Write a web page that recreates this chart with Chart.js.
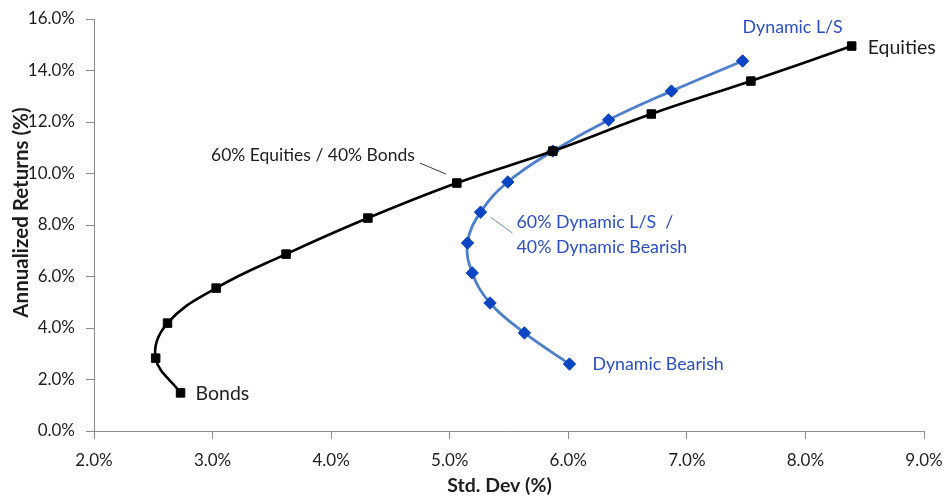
<!DOCTYPE html>
<html>
<head>
<meta charset="utf-8">
<script src="https://cdn.jsdelivr.net/npm/chart.js@4.4.1/dist/chart.umd.min.js"></script>
<style>
html,body{margin:0;padding:0;background:#ffffff;}
canvas{display:block;}
</style>
</head>
<body>
<canvas id="c" width="944" height="497"></canvas>
<script>
// ---- Data (percent units) ----
// Equities / Bonds frontier, from 100% Bonds to 100% Equities
const eqBondStd = [2.73, 2.52, 2.62, 3.03, 3.62, 4.31, 5.06, 5.87, 6.70, 7.54, 8.39];
const eqBondRet = [1.48, 2.83, 4.19, 5.55, 6.87, 8.27, 9.63, 10.87, 12.31, 13.59, 14.95];
// Dynamic L/S / Dynamic Bearish frontier, from 100% Bearish to 100% L/S
const dynStd = [6.01, 5.63, 5.34, 5.19, 5.15, 5.26, 5.49, 5.87, 6.34, 6.87, 7.47];
const dynRet = [2.60, 3.81, 4.97, 6.14, 7.30, 8.50, 9.67, 10.87, 12.08, 13.20, 14.37];

const xTickValues = [2, 3, 4, 5, 6, 7, 8, 9];
const yTickValues = [0, 2, 4, 6, 8, 10, 12, 14, 16];

const xTitle = 'Std. Dev (%)';
const yTitle = 'Annualized Returns (%)';

const eqBondLabels = { first: 'Bonds', last: 'Equities', mid: '60% Equities / 40% Bonds', midIndex: 6 };
const dynLabels = { first: 'Dynamic Bearish', last: 'Dynamic L/S', mid: ['60% Dynamic L/S  /', '40% Dynamic Bearish'], midIndex: 5 };

// ---- Build points ----
const toPts = (xs, ys) => xs.map((x, i) => ({ x: x, y: ys[i] }));

const BLACK = '#000000';
const BLUE_LINE = '#4d7fcc';
const BLUE_MARK = '#0b45c4';
const BLUE_TEXT = '#2b4fc6';
const TEXT_DARK = '#1e1e1e';
const AXIS_GRAY = '#8c8c8c';
const FONT = 'Lato, "Open Sans", sans-serif';

const labelPlugin = {
  id: 'frontierLabels',
  afterDraw(chart) {
    const ctx = chart.ctx;
    const xs = chart.scales.x, ys = chart.scales.y;
    const px = (arrX, i) => xs.getPixelForValue(arrX[i]);
    const py = (arrY, i) => ys.getPixelForValue(arrY[i]);
    ctx.save();
    ctx.textBaseline = 'alphabetic';

    // Black series labels
    ctx.fillStyle = TEXT_DARK;
    ctx.textAlign = 'left';
    ctx.font = '19.5px ' + FONT;
    let n = eqBondStd.length - 1;
    ctx.fillText(eqBondLabels.first, px(eqBondStd, 0) + 15, py(eqBondRet, 0) + 7);
    ctx.fillText(eqBondLabels.last, px(eqBondStd, n) + 16, py(eqBondRet, n) + 8);
    let mx = px(eqBondStd, eqBondLabels.midIndex), my = py(eqBondRet, eqBondLabels.midIndex);
    ctx.font = '17.5px ' + FONT;
    ctx.textAlign = 'right';
    ctx.fillText(eqBondLabels.mid, mx - 42, my - 22);
    ctx.strokeStyle = '#3a3a3a';
    ctx.lineWidth = 1;
    ctx.beginPath();
    ctx.moveTo(mx - 37, my - 20);
    ctx.lineTo(mx - 11, my - 9);
    ctx.stroke();

    // Blue series labels
    ctx.fillStyle = BLUE_TEXT;
    ctx.textAlign = 'left';
    ctx.font = '17.8px ' + FONT;
    n = dynStd.length - 1;
    ctx.fillText(dynLabels.first, px(dynStd, 0) + 23, py(dynRet, 0) + 6);
    ctx.fillText(dynLabels.last, px(dynStd, n) + 0, py(dynRet, n) - 28);
    mx = px(dynStd, dynLabels.midIndex); my = py(dynRet, dynLabels.midIndex);
    ctx.fillText(dynLabels.mid[0], mx + 36, my + 16);
    ctx.fillText(dynLabels.mid[1], mx + 36, my + 41);
    ctx.strokeStyle = '#6b95d6';
    ctx.lineWidth = 1;
    ctx.beginPath();
    ctx.moveTo(mx + 10, my + 5);
    ctx.lineTo(mx + 32, my + 21);
    ctx.stroke();
    ctx.restore();
  }
};

const chart = new Chart(document.getElementById('c'), {
  type: 'scatter',
  data: {
    datasets: [
      {
        label: 'Equities / Bonds',
        data: toPts(eqBondStd, eqBondRet),
        showLine: true,
        borderColor: BLACK,
        backgroundColor: BLACK,
        borderWidth: 2.6,
        tension: 0.4,
        pointStyle: 'rect',
        pointRadius: 6,
        pointBorderWidth: 1,
        pointBorderColor: BLACK,
        pointBackgroundColor: BLACK,
        order: 1
      },
      {
        label: 'Dynamic L/S / Dynamic Bearish',
        data: toPts(dynStd, dynRet),
        showLine: true,
        borderColor: BLUE_LINE,
        backgroundColor: BLUE_MARK,
        borderWidth: 2.8,
        tension: 0.4,
        pointStyle: 'rectRot',
        pointRadius: 6.2,
        pointBorderWidth: 1,
        pointBorderColor: BLUE_MARK,
        pointBackgroundColor: BLUE_MARK,
        order: 2
      }
    ]
  },
  options: {
    responsive: false,
    animation: false,
    devicePixelRatio: 1,
    layout: { padding: { left: 0, top: 19, right: 20, bottom: 0 } },
    plugins: {
      legend: { display: false },
      tooltip: { enabled: false },
      title: { display: false }
    },
    scales: {
      x: {
        type: 'linear',
        min: 2, max: 9,
        afterBuildTicks: (s) => { s.ticks = xTickValues.map(v => ({ value: v })); },
        afterFit: (s) => { s.height = 66; s.paddingLeft = 0; s.paddingRight = 0; },
        ticks: {
          callback: (v) => Number(v).toFixed(1) + '%',
          font: { family: FONT, size: 17 },
          color: TEXT_DARK,
          padding: 11,
          maxRotation: 0,
          autoSkip: false
        },
        grid: { drawOnChartArea: false, drawTicks: true, tickLength: 8, color: AXIS_GRAY, tickColor: AXIS_GRAY },
        border: { display: true, color: AXIS_GRAY, width: 1 },
        title: {
          display: true,
          text: xTitle + '    ',
          font: { family: FONT, size: 19.5, weight: 'bold' },
          color: TEXT_DARK,
          padding: { top: 0, bottom: 0 }
        }
      },
      y: {
        type: 'linear',
        min: 0, max: 16,
        afterBuildTicks: (s) => { s.ticks = yTickValues.map(v => ({ value: v })); },
        afterFit: (s) => { s.width = 94; s.paddingTop = 0; s.paddingBottom = 0; },
        ticks: {
          callback: (v) => Number(v).toFixed(1) + '%',
          font: { family: FONT, size: 17 },
          color: TEXT_DARK,
          padding: 11,
          autoSkip: false
        },
        grid: { drawOnChartArea: false, drawTicks: true, tickLength: 8, color: AXIS_GRAY, tickColor: AXIS_GRAY },
        border: { display: true, color: AXIS_GRAY, width: 1 },
        title: {
          display: true,
          text: '     ' + yTitle,
          font: { family: FONT, size: 20.5, weight: 'bold' },
          color: TEXT_DARK,
          padding: { top: 9, bottom: 0 }
        }
      }
    }
  },
  plugins: [labelPlugin]
});
</script>
</body>
</html>
